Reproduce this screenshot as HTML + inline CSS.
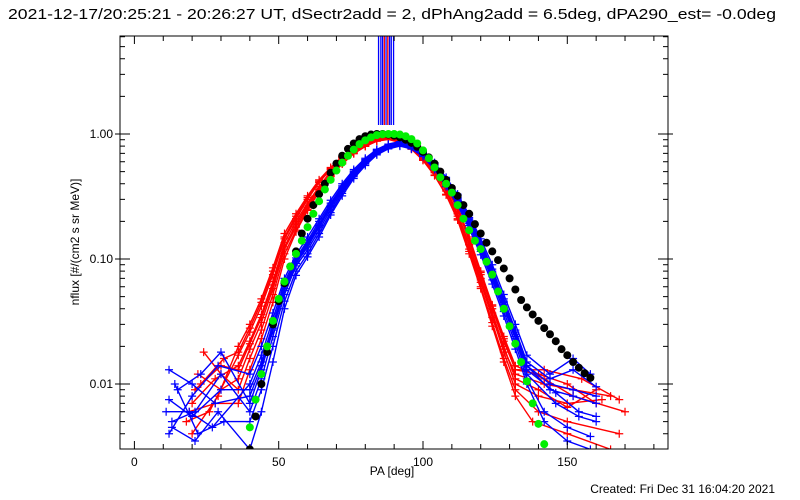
<!DOCTYPE html>
<html><head><meta charset="utf-8">
<style>
html,body{margin:0;padding:0;background:#fff;}
svg{display:block;font-family:"Liberation Sans",sans-serif;}
</style></head>
<body>
<svg id="chart" width="800" height="500" viewBox="0 0 800 500" xmlns="http://www.w3.org/2000/svg">
<rect x="0" y="0" width="800" height="500" fill="#fff"/>
<text x="8" y="19" font-size="15" textLength="768" lengthAdjust="spacingAndGlyphs">2021-12-17/20:25:21 - 20:26:27 UT, dSectr2add = 2, dPhAng2add = 6.5deg, dPA290_est= -0.0deg</text>
<defs><clipPath id="plotclip"><rect x="120" y="36" width="548" height="413"/></clipPath></defs>
<g id="series" clip-path="url(#plotclip)"></g>
<g id="axes"></g>
<text x="0" y="0" font-size="12" text-anchor="middle" transform="translate(79,242) rotate(-90)">nflux [#/(cm2 s sr MeV)]</text>
<text x="392" y="475" font-size="12" text-anchor="middle">PA [deg]</text>
<text x="775" y="493" font-size="12" text-anchor="end">Created: Fri Dec 31 16:04:20 2021</text>
</svg>
<script>
const xTicks = [0, 50, 100, 150];
const yTicks = [0.01, 0.1, 1.0];
const yTickLabels = ["0.01", "0.10", "1.00"];

const blackPA = [40,42,44,46,48,50,52,54,56,58,60,62,64,66,68,70,72,74,76,78,80,82,84,86,88,90,92,94,96,98,100,102,104,106,108,110,112,114,116,118,120,122,124,126,128,130,132,134,136,138,140,142,144,146,148,150,152,154,156,158];
const blackFlux = [.003,.0055,.01,.018,.03,.046,.064,.087,.115,.16,.21,.27,.33,.40,.49,.58,.67,.76,.84,.91,.96,.99,1,1,.99,.97,.94,.9,.85,.79,.72,.65,.58,.5,.43,.37,.32,.27,.23,.19,.16,.135,.115,.098,.084,.07,.057,.047,.041,.036,.032,.028,.025,.022,.019,.017,.015,.0135,.0122,.0112];

const greenPA = [38,40,42,44,46,48,50,52,54,56,58,60,62,64,66,68,70,72,74,76,78,80,82,84,86,88,90,92,94,96,98,100,102,104,106,108,110,112,114,116,118,120,122,124,126,128,130,132,134,136,138,140,142,144];
const greenFlux = [.0028,.0045,.0075,.012,.02,.032,.048,.066,.087,.11,.14,.18,.23,.29,.36,.43,.51,.59,.67,.75,.83,.89,.94,.98,.995,1,1,.99,.96,.91,.84,.74,.64,.54,.45,.4,.34,.27,.21,.17,.14,.12,.095,.075,.055,.04,.029,.021,.015,.0105,.007,.0048,.0033,.0024];

const redCorePA = [36,40,44,48,52,56,60,64,68,72,76,80,84,88,92,96,100,104,108,112,116,120,124,128,132];
const redCore1 = [.014,.022,.036,.066,.135,.2,.28,.38,.5,.62,.74,.84,.91,.94,.89,.79,.65,.5,.36,.23,.13,.068,.035,.018,.01];
const redCore2 = [.011,.019,.031,.058,.12,.18,.26,.36,.47,.59,.71,.81,.89,.92,.87,.77,.63,.49,.35,.22,.12,.065,.034,.019,.012];
const redCore3 = [.017,.026,.042,.075,.145,.21,.3,.41,.52,.64,.75,.85,.92,.95,.9,.8,.66,.52,.38,.25,.14,.075,.04,.022,.013];
const redCore4 = [.009,.016,.027,.052,.11,.17,.25,.35,.46,.58,.7,.8,.88,.91,.86,.76,.62,.47,.33,.21,.115,.06,.031,.016,.009];
const redCore5 = [.02,.03,.048,.085,.16,.23,.32,.43,.54,.66,.77,.86,.93,.96,.91,.81,.67,.53,.39,.26,.15,.08,.043,.024,.014];
const redCore6 = [.013,.021,.034,.062,.125,.19,.27,.37,.48,.6,.72,.82,.9,.93,.88,.78,.64,.5,.36,.23,.13,.07,.037,.02,.011];
const redCore7 = [.007,.013,.023,.045,.1,.165,.245,.345,.455,.575,.695,.795,.875,.905,.855,.755,.615,.465,.325,.205,.11,.058,.029,.015,.008];
const redCore8 = [.018,.028,.045,.08,.15,.22,.31,.42,.53,.65,.76,.85,.92,.95,.9,.8,.66,.52,.38,.25,.145,.078,.042,.023,.013];
const redLeftPA = [[20,28],[22,30],[18,26],[24,30],[20,29],[21,30],[19,28],[23,31]];
const redLeftFlux = [[.007,.011],[.012,.009],[.005,.006],[.018,.012],[.004,.008],[.009,.014],[.006,.007],[.01,.016]];
const redRightPA = [[140,150,162],[142,152,165],[140,150,160],[140,150,168],[142,152,170],[140,150,160],[138,150,165],[142,155,168]];
const redRightFlux = [[.008,.007,.0075],[.01,.009,.008],[.012,.01,.007],[.006,.005,.004],[.011,.008,.006],[.009,.0065,.009],[.005,.004,.003],[.013,.011,.0075]];

const blueCorePA = [40,44,48,52,56,60,64,68,72,76,80,84,88,92,96,100,104,108,112,116,120,124,128,132,136];
const blueCore1 = [.008,.014,.028,.058,.095,.13,.185,.265,.365,.485,.605,.725,.805,.845,.805,.705,.565,.425,.305,.205,.13,.078,.045,.025,.014];
const blueCore2 = [.006,.011,.024,.052,.088,.118,.17,.248,.348,.466,.586,.706,.786,.826,.786,.686,.546,.406,.29,.192,.12,.072,.041,.023,.012];
const blueCore3 = [.01,.017,.033,.065,.102,.14,.2,.28,.385,.505,.625,.745,.82,.86,.82,.72,.58,.44,.32,.215,.138,.083,.048,.027,.015];
const blueCore4 = [.005,.009,.02,.046,.08,.11,.16,.235,.335,.455,.575,.695,.775,.815,.775,.675,.535,.395,.28,.185,.115,.068,.038,.021,.011];
const blueCore5 = [.012,.02,.037,.07,.108,.15,.21,.295,.4,.52,.64,.755,.83,.87,.83,.73,.59,.45,.33,.225,.145,.09,.052,.03,.017];
const blueCore6 = [.007,.013,.027,.056,.092,.125,.18,.26,.36,.48,.6,.72,.8,.84,.8,.7,.56,.42,.3,.2,.125,.075,.043,.024,.013];
const blueCore7 = [.003,.006,.015,.04,.074,.104,.15,.225,.32,.44,.56,.68,.76,.8,.76,.66,.52,.38,.27,.175,.108,.063,.035,.019,.01];
const blueCore8 = [.009,.015,.03,.061,.098,.135,.19,.27,.375,.495,.615,.735,.81,.85,.81,.71,.57,.43,.31,.21,.133,.08,.046,.026,.014];
const blueLeftPA = [[12,20,28],[13,21,30],[11,19,27],[14,22,31],[12,20,29],[15,23,30],[13,21,29],[12,20,30]];
const blueLeftFlux = [[.013,.01,.007],[.005,.006,.012],[.006,.006,.0045],[.01,.004,.005],[.004,.008,.014],[.009,.012,.018],[.0045,.0035,.006],[.0075,.0055,.009]];
const blueRightPA = [[144,152,160],[146,154,160],[144,152,160],[142,150,158],[144,152,158],[146,154,160],[142,150,158],[144,152,160]];
const blueRightFlux = [[.009,.008,.007],[.007,.0055,.005],[.011,.013,.0095],[.006,.0045,.0038],[.012,.016,.012],[.0085,.006,.0055],[.005,.0035,.003],[.01,.009,.008]];

const spikePA = [84.6, 85.4, 86, 86.6, 87.2, 87.8, 88.4, 89, 89.8];
const spikeColors = ["blue","blue","blue","red","blue","red","blue","blue","blue"];

const NS = "http://www.w3.org/2000/svg";
const X0 = 134.4, XS = 2.886;
function xScale(v){ return X0 + v*XS; }
function yScale(f){ return 134 - Math.log10(f)*125; }
const PL = 120, PR = 668, PT = 36, PB = 449;

const series = document.getElementById('series');
const axes = document.getElementById('axes');

function mk(tag, attrs, parent){
  const e = document.createElementNS(NS, tag);
  for (const k in attrs) e.setAttribute(k, attrs[k]);
  parent.appendChild(e);
  return e;
}

function drawCurve(pa, fl, color, name){
  const g = mk('g', {}, series);
  
  
  const pts = pa.map((p,i)=>xScale(p).toFixed(1)+','+yScale(fl[i]).toFixed(1)).join(' ');
  mk('polyline', {points: pts, fill:'none', stroke: color, 'stroke-width': 1.4}, g);
  pa.forEach((p,i)=>{
    const x = xScale(p), y = yScale(fl[i]);
    const m = mk('path', {d:`M${x-4},${y}H${x+4}M${x},${y-4}V${y+4}`, stroke: color, 'stroke-width': 1.2}, g);
    
    
  });
}

const redCores = [redCore1,redCore2,redCore3,redCore4,redCore5,redCore6,redCore7,redCore8];
const blueCores = [blueCore1,blueCore2,blueCore3,blueCore4,blueCore5,blueCore6,blueCore7,blueCore8];
redCores.forEach((c,i)=>{
  drawCurve(redLeftPA[i].concat(redCorePA, redRightPA[i]), redLeftFlux[i].concat(c, redRightFlux[i]), '#ff0000', 'red-curve-'+(i+1));
});
blueCores.forEach((c,i)=>{
  drawCurve(blueLeftPA[i].concat(blueCorePA, blueRightPA[i]), blueLeftFlux[i].concat(c, blueRightFlux[i]), '#0000ff', 'blue-curve-'+(i+1));
});

spikePA.forEach((p,i)=>{
  const l = mk('line', {x1: xScale(p), x2: xScale(p), y1: PT, y2: 125, stroke: spikeColors[i]==='red'?'#ff0000':'#0000ff', 'stroke-width': 1.3}, series);
  
  
});

function drawDots(pa, fl, color, name){
  const g = mk('g', {}, series);
  
  
  pa.forEach((p,i)=>{
    const c = mk('circle', {cx: xScale(p), cy: yScale(fl[i]), r: 4, fill: color}, g);
    
    
  });
}
drawDots(blackPA, blackFlux, '#000000', 'black-fit-series');
drawDots(greenPA, greenFlux, '#00ee00', 'green-fit-series');

const frame = mk('rect', {x: PL, y: PT, width: PR-PL, height: PB-PT, fill:'none', stroke:'#000', 'stroke-width':1}, axes);



for (let v = 0; v <= 180; v += 10){
  const x = xScale(v);
  const major = v % 50 === 0;
  const len = major ? 8 : 5;
  mk('line', {x1:x, x2:x, y1:PB, y2:PB-len, stroke:'#000'}, axes);
  mk('line', {x1:x, x2:x, y1:PT, y2:PT+len, stroke:'#000'}, axes);
}
xTicks.forEach(v=>{
  const t = mk('text', {x: xScale(v), y: 466, 'font-size': 12, 'text-anchor':'middle'}, axes);
  t.textContent = String(v);
  
  
});

yTicks.forEach((v,i)=>{
  const y = yScale(v);
  mk('line', {x1:PL-5, x2:PL+10, y1:y, y2:y, stroke:'#000'}, axes);
  mk('line', {x1:PR+5, x2:PR-10, y1:y, y2:y, stroke:'#000'}, axes);
  const t = mk('text', {x: 113, y: y+4, 'font-size': 12, 'text-anchor':'end'}, axes);
  t.textContent = yTickLabels[i];
  
  
});
[0.001,0.01,0.1,1].forEach(d=>{
  for (let k = 2; k <= 9; k++){
    const f = d*k, y = yScale(f);
    if (y < PT || y > PB) continue;
    mk('line', {x1:PL, x2:PL+5, y1:y, y2:y, stroke:'#000'}, axes);
    mk('line', {x1:PR, x2:PR-5, y1:y, y2:y, stroke:'#000'}, axes);
  }
});
</script>
</body></html>
